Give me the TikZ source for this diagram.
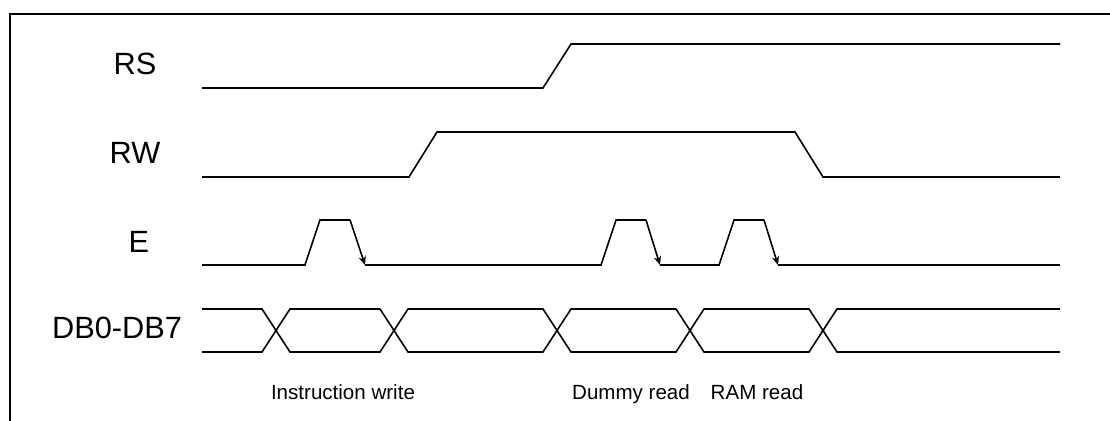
\documentclass[tikz,border=0pt]{standalone}
\usepackage{fontspec}
\setmainfont{Liberation Sans}
\usetikzlibrary{arrows.meta}

\begin{document}
\begin{tikzpicture}[
    x=0.02cm, y=-0.02cm,
    sig/.style={line width=0.9pt, line join=miter},
    fall/.style={sig, -{Stealth[length=5pt,width=4.2pt]}},
    signame/.style={anchor=base, inner sep=0pt, font=\fontsize{17.5}{20}\selectfont},
    note/.style={anchor=base, inner sep=0pt, font=\fontsize{11.7}{14}\selectfont}
]
\useasboundingbox (0,0) rectangle (1110,421);

% --- frame ---
\draw[line width=0.9pt] (1110,14) -- (10,14) -- (10,421);

% --- labels ---
\node[signame] (rs) at (135,75) {RS};
\node[signame] (rw) at (135,164) {RW};
\node[signame] (e)  at (139,253) {E};
\node[signame] (db) at (117,339) {DB0-DB7};

% --- RS ---
\draw[sig] (202,88) -- (543,88) -- (571,44) -- (1060,44);

% --- RW ---
\draw[sig] (202,177) -- (409,177) -- (437,132) -- (795,132) -- (823,177) -- (1060,177);

% --- E ---
\draw[sig] (202,265) -- (305,265) -- (320,220) -- (350,220);
\draw[fall] (350,220) -- (365,265);
\draw[sig] (365,265) -- (601,265) -- (616,220) -- (646,220);
\draw[fall] (646,220) -- (660,265);
\draw[sig] (660,265) -- (719,265) -- (734,220) -- (764,220);
\draw[fall] (764,220) -- (778,265);
\draw[sig] (778,265) -- (1060,265);

% --- DB0-DB7 ---
\draw[sig] (202,309) -- (262,309) -- (276,330.5) -- (262,352) -- (202,352);
\foreach \a/\b in {276/394, 394/557, 557/690, 690/823}
  \draw[sig] (\a,330.5) -- (\a+14,309) -- (\b-14,309) -- (\b,330.5)
    -- (\b-14,352) -- (\a+14,352) -- cycle;
\draw[sig] (1060,309) -- (837,309) -- (823,330.5) -- (837,352) -- (1060,352);

% --- cycle notes ---
\node[note] (iw) at (343,400) {Instruction write};
\node[note] (dr) at (631,400) {Dummy read};
\node[note] (rr) at (757,400) {RAM read};

\end{tikzpicture}
\end{document}
